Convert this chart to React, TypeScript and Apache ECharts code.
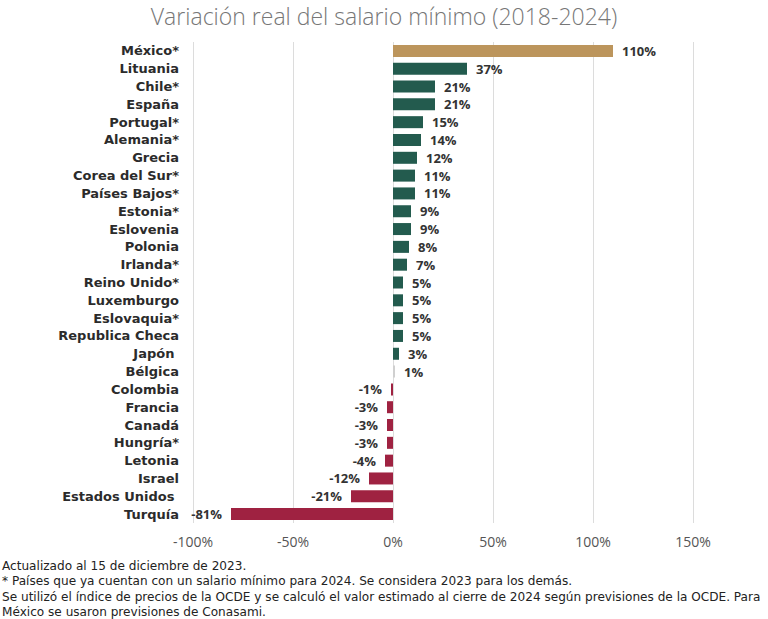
import React, { useEffect, useRef } from "react";
import * as echarts from "echarts";

const countries = [
  "México*", "Lituania", "Chile*", "España", "Portugal*", "Alemania*", "Grecia",
  "Corea del Sur*", "Países Bajos*", "Estonia*", "Eslovenia", "Polonia", "Irlanda*",
  "Reino Unido*", "Luxemburgo", "Eslovaquia*", "Republica Checa", "Japón ", "Bélgica",
  "Colombia", "Francia", "Canadá", "Hungría*", "Letonia", "Israel", "Estados Unidos ", "Turquía",
];
const values = [
  110, 37, 21, 21, 15, 14, 12, 11, 11, 9, 9, 8, 7, 5, 5, 5, 5, 3, 1,
  -1, -3, -3, -3, -4, -12, -21, -81,
];
const xTicks = [-100, -50, 0, 50, 100, 150];
const titleText = "Variación real del salario mínimo (2018-2024)";
const notes = [
  "Actualizado al 15 de diciembre de 2023.",
  "* Países que ya cuentan con un salario mínimo para 2024. Se considera 2023 para los demás.",
  "Se utilizó el índice de precios de la OCDE y se calculó el valor estimado al cierre de 2024 según previsiones de la OCDE. Para",
  "México se usaron previsiones de Conasami.",
];

const GOLD = "#bc955c";
const GREEN = "#235b4e";
const RED = "#9f2241";
const GREY = "#d0d0d0";
const FONT = "'Open Sans', sans-serif";
const WIDE = "'DejaVu Sans', sans-serif";

export default function App() {
  const ref = useRef<HTMLDivElement>(null);
  useEffect(() => {
    if (!ref.current) return;
    const chart = echarts.init(ref.current, undefined, { renderer: "svg" });
    const data = values.map((v, i) => ({
      value: v,
      itemStyle: { color: i === 0 ? GOLD : v < 0 ? RED : v <= 1 ? GREY : GREEN },
      label: { position: v < 0 ? "left" : "right" },
    }));
    chart.setOption({
      animation: false,
      textStyle: { fontFamily: FONT },
      grid: { left: 193, right: 75, top: 42, bottom: 96, containLabel: false },
      xAxis: {
        type: "value",
        min: xTicks[0],
        max: xTicks[xTicks.length - 1],
        interval: 50,
        axisLine: { show: false },
        axisTick: { show: false },
        axisLabel: {
          formatter: "{value}%",
          color: "#555",
          fontSize: 14,
          fontFamily: FONT,
          margin: 11,
        },
        splitLine: { lineStyle: { color: "#dcdcdc", width: 1 } },
      },
      yAxis: {
        type: "category",
        data: countries,
        inverse: true,
        axisLine: { show: false },
        axisTick: { show: false },
        axisLabel: {
          color: "#2b2b2b",
          fontWeight: "bold",
          fontSize: 13,
          fontFamily: WIDE,
          margin: 14,
        },
      },
      series: [
        {
          type: "bar",
          data,
          barWidth: 12,
          label: {
            show: true,
            formatter: (p: any) => `${p.value}%`,
            color: "#333",
            fontWeight: "bold",
            fontSize: 13,
            fontFamily: FONT,
            distance: 9,
          },
        },
      ],
      graphic: [
        {
          type: "text",
          left: "center",
          top: 4,
          style: {
            text: titleText,
            fill: "#777",
            fontSize: 23,
            fontFamily: FONT,
            fontWeight: 300,
          },
        },
        ...notes.map((t, i) => ({
          type: "text",
          left: 2,
          top: 560 + i * 15.3,
          style: {
            text: t,
            fill: "#222",
            fontSize: 12.1,
            fontFamily: WIDE,
          },
        })),
      ],
    });
    return () => chart.dispose();
  }, []);
  return (
    <div
      ref={ref}
      style={{ position: "absolute", left: 0, top: 0, width: 768, height: 619 }}
    />
  );
}
